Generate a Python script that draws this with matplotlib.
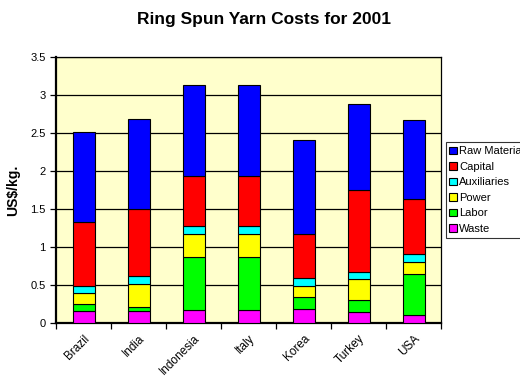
import numpy as np
import matplotlib.pyplot as plt

plt.rcParams['font.family'] = ['Liberation Sans', 'DejaVu Sans']

countries = ['Brazil', 'India', 'Indonesia', 'Italy', 'Korea', 'Turkey', 'USA']

# cost components in US$/kg, bottom of stack first
waste = [0.15, 0.15, 0.17, 0.17, 0.18, 0.14, 0.10]
labor = [0.10, 0.06, 0.69, 0.69, 0.16, 0.16, 0.54]
power = [0.14, 0.30, 0.31, 0.31, 0.14, 0.27, 0.16]
auxiliaries = [0.10, 0.10, 0.10, 0.10, 0.11, 0.10, 0.10]
capital = [0.84, 0.89, 0.66, 0.66, 0.58, 1.08, 0.73]
raw_material = [1.18, 1.19, 1.21, 1.21, 1.24, 1.13, 1.04]

series = [
    ('Waste', waste, '#FF00FF'),
    ('Labor', labor, '#00FF00'),
    ('Power', power, '#FFFF00'),
    ('Auxiliaries', auxiliaries, '#00FFFF'),
    ('Capital', capital, '#FF0000'),
    ('Raw Material', raw_material, '#0000FF'),
]

fig = plt.figure(figsize=(5.2, 3.83), dpi=100)
ax = fig.add_axes([56 / 520, 1 - 322.7 / 383, 385 / 520, 265.4 / 383])
ax.set_facecolor('#FFFFCC')

x = np.arange(len(countries))
bottom = np.zeros(len(countries))
handles = []
for name, vals, color in series:
    b = ax.bar(x, vals, 0.4, bottom=bottom, color=color,
               edgecolor='black', linewidth=0.8, label=name, zorder=3)
    handles.append(b)
    bottom += np.array(vals)

ax.set_xlim(-0.5, len(countries) - 0.5)
ax.set_ylim(0, 3.5)
ax.set_yticks(np.arange(0, 3.51, 0.5))
ax.set_yticklabels(['0', '0.5', '1', '1.5', '2', '2.5', '3', '3.5'], fontsize=8)
ax.yaxis.grid(True, color='black', linewidth=0.9, zorder=1)
ax.tick_params(axis='y', direction='out', length=4, width=0.9)

ax.set_xticks(x)
ax.set_xticklabels(countries, rotation=45, ha='right', va='top',
                   rotation_mode='anchor', fontsize=8.5)
ax.set_xticks(np.arange(-0.5, len(countries), 1), minor=True)
ax.tick_params(axis='x', which='major', length=0, pad=7)
ax.tick_params(axis='x', which='minor', direction='out', length=4, width=0.9)

for side in ['top', 'right']:
    ax.spines[side].set_linewidth(0.9)
for side in ['left', 'bottom']:
    ax.spines[side].set_linewidth(1.6)

ax.set_ylabel('US$/kg.', fontsize=10, fontweight='bold', labelpad=7)
fig.text(0.508, 0.95, 'Ring Spun Yarn Costs for 2001', ha='center', va='center',
         fontsize=12.5, fontweight='bold')

# legend box runs off the right edge of the figure
leg = fig.legend(handles[::-1], [s[0] for s in series][::-1],
                 loc='upper left', bbox_to_anchor=(445.5 / 520, 1 - 142.3 / 383),
                 fontsize=8, frameon=True, fancybox=False, edgecolor='black',
                 handlelength=0.65, handleheight=0.65, handletextpad=0.25,
                 labelspacing=0.5, borderpad=0.35, borderaxespad=0)
leg.get_frame().set_linewidth(0.8)

fig.savefig('out.png', dpi=100)
